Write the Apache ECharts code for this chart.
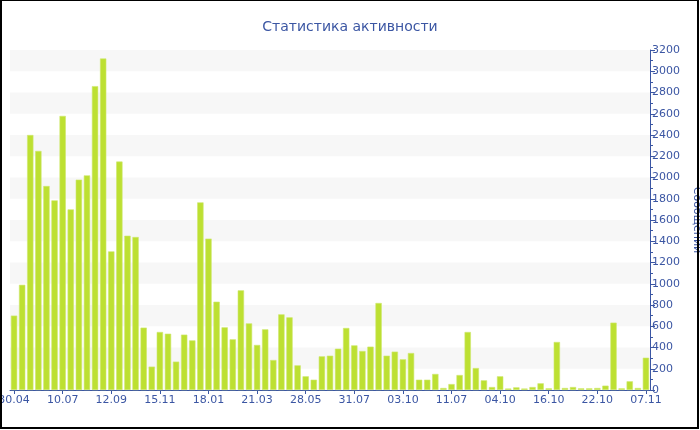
<!DOCTYPE html>
<html>
<head>
<meta charset="utf-8">
<script src="https://cdn.jsdelivr.net/npm/echarts@6/dist/echarts.min.js"></script>
<style>
html, body { margin: 0; padding: 0; background: #fff; }
#frame { position: absolute; left: 0; top: 0; width: 695px; height: 426px; border-left: 2px solid #000; border-right: 2px solid #000; border-bottom: 2px solid #000; border-top: 1px solid #000; }
#chart { position: absolute; left: 0; top: 0; width: 700px; height: 430px; }
</style>
</head>
<body>
<div id="chart"></div>
<div id="frame"></div>
<script>
var titleText = 'Статистика активности';
var yAxisName = 'Сообщений';
var tickLabels = ['30.04', '10.07', '12.09', '15.11', '18.01', '21.03', '28.05', '31.07', '03.10', '11.07', '04.10', '16.10', '22.10', '07.11'];
var messages = [
  700, 990, 2400, 2250, 1920, 1785, 2580, 1700, 1980, 2020,
  2860, 3120, 1305, 2150, 1452, 1440, 587, 220, 546, 530,
  267, 521, 467, 1766, 1425, 831, 590, 477, 938, 627,
  424, 571, 282, 712, 684, 232, 129, 97, 317, 323,
  389, 584, 420, 367, 408, 819, 323, 361, 289, 348,
  97, 97, 151, 19, 56, 141, 546, 207, 91, 28,
  129, 14, 25, 14, 28, 63, 16, 452, 19, 28,
  16, 16, 19, 41, 634, 16, 82, 19, 304
];
var labelStep = 6;
var categories = messages.map(function (v, i) {
  return i % labelStep === 0 ? tickLabels[i / labelStep] : 'd' + i;
});

var blue = '#3b56a3';
var chart = echarts.init(document.getElementById('chart'), null, { renderer: 'canvas' });
chart.setOption({
  animation: false,
  backgroundColor: '#ffffff',
  title: {
    text: titleText,
    left: 'center',
    top: 15,
    textStyle: { color: blue, fontSize: 14, fontWeight: 'normal', fontFamily: 'DejaVu Sans' }
  },
  grid: { left: 10, right: 50, top: 50, bottom: 40, containLabel: false, outerBoundsMode: 'none' },
  xAxis: {
    type: 'category',
    data: categories,
    boundaryGap: true,
    axisLine: { lineStyle: { color: blue, width: 1 } },
    axisTick: { show: true, alignWithLabel: true, interval: labelStep - 1, length: 4, lineStyle: { color: blue } },
    axisLabel: {
      interval: labelStep - 1,
      color: blue,
      fontSize: 11,
      fontFamily: 'DejaVu Sans',
      margin: 5,
      formatter: function (v, i) { return i % labelStep === 0 ? v : ''; }
    },
    splitLine: { show: false }
  },
  yAxis: {
    type: 'value',
    position: 'right',
    min: 0,
    max: 3200,
    interval: 200,
    name: yAxisName,
    nameLocation: 'middle',
    nameRotate: -90,
    nameGap: 37,
    nameTextStyle: { color: blue, fontSize: 11, fontFamily: 'DejaVu Sans' },
    axisLine: { show: true, lineStyle: { color: blue, width: 1 } },
    axisTick: { show: true, length: 5, lineStyle: { color: blue } },
    minorTick: { show: true, splitNumber: 2, length: 3, lineStyle: { color: blue } },
    axisLabel: {
      color: blue, fontSize: 11, fontFamily: 'DejaVu Sans', margin: 2,
      formatter: function (v) { return String(v); }
    },
    splitLine: { show: false },
    splitArea: { show: true, areaStyle: { color: ['rgba(255,255,255,0)', '#f7f7f7'] } }
  },
  series: [{
    type: 'bar',
    data: messages,
    barCategoryGap: '22%',
    itemStyle: { color: '#bde032', borderColor: '#cfe86e', borderWidth: 0.6 }
  }]
});
</script>
</body>
</html>
